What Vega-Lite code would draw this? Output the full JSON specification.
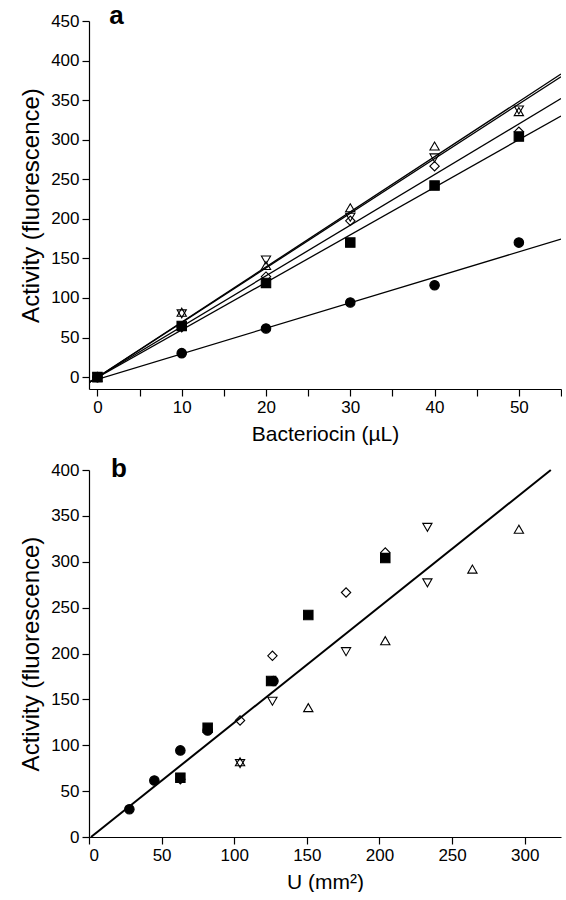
{
  "$schema": "https://vega.github.io/schema/vega-lite/v6.json",
  "background": "white",
  "padding": {"left": 19, "top": 3, "right": 0, "bottom": 0},
  "spacing": 11,
  "config": {
    "view": {"stroke": null},
    "font": "Liberation Sans",
    "axis": {
      "grid": false,
      "domainColor": "black",
      "domainWidth": 1.2,
      "tickColor": "black",
      "tickWidth": 1.2,
      "tickSize": 7,
      "labelColor": "black",
      "labelFont": "Liberation Sans",
      "labelFontSize": 17,
      "labelPadding": 3,
      "titleColor": "black",
      "titleFont": "Liberation Sans",
      "titleFontSize": 21,
      "titleFontWeight": "normal"
    }
  },
  "datasets": {
    "points": [
      {"series": "diamond", "bacteriocin": 0, "U": null, "activity": 0},
      {"series": "diamond", "bacteriocin": 10, "U": 62.9, "activity": 63},
      {"series": "diamond", "bacteriocin": 20, "U": 104, "activity": 127},
      {"series": "diamond", "bacteriocin": 30, "U": 126.3, "activity": 197.5},
      {"series": "diamond", "bacteriocin": 40, "U": 177, "activity": 266.5},
      {"series": "diamond", "bacteriocin": 50, "U": 204, "activity": 310},
      {"series": "triangle-up", "bacteriocin": 0, "U": null, "activity": 0},
      {"series": "triangle-up", "bacteriocin": 10, "U": 104, "activity": 82},
      {"series": "triangle-up", "bacteriocin": 20, "U": 151, "activity": 141},
      {"series": "triangle-up", "bacteriocin": 30, "U": 204, "activity": 214},
      {"series": "triangle-up", "bacteriocin": 40, "U": 264, "activity": 292},
      {"series": "triangle-up", "bacteriocin": 50, "U": 296, "activity": 335.5},
      {"series": "triangle-down", "bacteriocin": 0, "U": null, "activity": 0},
      {"series": "triangle-down", "bacteriocin": 10, "U": 104, "activity": 80},
      {"series": "triangle-down", "bacteriocin": 20, "U": 126.3, "activity": 148},
      {"series": "triangle-down", "bacteriocin": 30, "U": 177, "activity": 202},
      {"series": "triangle-down", "bacteriocin": 40, "U": 233, "activity": 277},
      {"series": "triangle-down", "bacteriocin": 50, "U": 233, "activity": 337.5},
      {"series": "circle", "bacteriocin": 0, "U": null, "activity": 0},
      {"series": "circle", "bacteriocin": 10, "U": 27.8, "activity": 30.3},
      {"series": "circle", "bacteriocin": 20, "U": 45, "activity": 61.5},
      {"series": "circle", "bacteriocin": 30, "U": 62.9, "activity": 94.4},
      {"series": "circle", "bacteriocin": 40, "U": 81.7, "activity": 116},
      {"series": "circle", "bacteriocin": 50, "U": 127, "activity": 170},
      {"series": "square", "bacteriocin": 0, "U": null, "activity": 0},
      {"series": "square", "bacteriocin": 10, "U": 62.9, "activity": 64.7},
      {"series": "square", "bacteriocin": 20, "U": 81.7, "activity": 119},
      {"series": "square", "bacteriocin": 30, "U": 125.4, "activity": 170},
      {"series": "square", "bacteriocin": 40, "U": 151, "activity": 242},
      {"series": "square", "bacteriocin": 50, "U": 204, "activity": 304}
    ],
    "fits": [
      {"series": "circle", "bacteriocin": -1, "activity": -6},
      {"series": "circle", "bacteriocin": 55, "activity": 174.5},
      {"series": "square", "bacteriocin": -1, "activity": -6.5},
      {"series": "square", "bacteriocin": 55, "activity": 330},
      {"series": "diamond", "bacteriocin": -1, "activity": -6.5},
      {"series": "diamond", "bacteriocin": 55, "activity": 352},
      {"series": "triangle-down", "bacteriocin": -1, "activity": -7},
      {"series": "triangle-down", "bacteriocin": 55, "activity": 379.6},
      {"series": "triangle-up", "bacteriocin": -1, "activity": -7},
      {"series": "triangle-up", "bacteriocin": 55, "activity": 383}
    ],
    "trend": [
      {"U": 1.4, "activity": 0},
      {"U": 318, "activity": 400}
    ]
  },
  "vconcat": [
    {
      "width": 472,
      "height": 368,
      "layer": [
        {
          "data": {"name": "fits"},
          "mark": {"type": "line", "stroke": "black", "strokeWidth": 1.3, "clip": true},
          "encoding": {
            "x": {
              "field": "bacteriocin", "type": "quantitative",
              "scale": {"domain": [-1, 55], "nice": false, "zero": false},
              "axis": {
                "title": "Bacteriocin (µL)",
                "values": [0, 5, 10, 15, 20, 25, 30, 35, 40, 45, 50, 55],
                "labelExpr": "datum.value % 10 === 0 ? datum.label : ''",
                "titlePadding": 8,
                "encode": {"ticks": {"update": {"y2": {"signal": "datum.value % 10 === 0 ? 7 : 4"}}}}
              }
            },
            "y": {
              "field": "activity", "type": "quantitative",
              "scale": {"domain": [-15, 450], "nice": false, "zero": false},
              "axis": {
                "title": "Activity (fluorescence)",
                "titleFontSize": 24,
                "values": [0, 25, 50, 75, 100, 125, 150, 175, 200, 225, 250, 275, 300, 325, 350, 375, 400, 425, 450],
                "labelExpr": "datum.value % 50 === 0 ? datum.label : ''",
                "titlePadding": 7,
                "encode": {"ticks": {"update": {"x2": {"signal": "datum.value % 50 === 0 ? -7 : -4"}}}}
              }
            },
            "detail": {"field": "series"}
          }
        },
        {
          "data": {"name": "points"},
          "mark": {"type": "point", "filled": true, "stroke": "black", "strokeWidth": 1.1, "opacity": 1},
          "encoding": {
            "x": {"field": "bacteriocin", "type": "quantitative"},
            "y": {"field": "activity", "type": "quantitative"},
            "shape": {
              "field": "series", "type": "nominal", "legend": null,
              "scale": {"domain": ["circle", "square", "diamond", "triangle-up", "triangle-down"],
                        "range": ["circle", "square", "diamond", "triangle-up", "triangle-down"]}
            },
            "fill": {
              "field": "series", "type": "nominal", "legend": null,
              "scale": {"domain": ["circle", "square", "diamond", "triangle-up", "triangle-down"],
                        "range": ["black", "black", "transparent", "transparent", "transparent"]}
            },
            "size": {
              "field": "series", "type": "nominal", "legend": null,
              "scale": {"domain": ["circle", "square", "diamond", "triangle-up", "triangle-down"],
                        "range": [90, 85, 155, 180, 180]}
            }
          }
        },
        {
          "data": {"values": [{"panel": "a"}]},
          "mark": {"type": "text", "fontSize": 26, "fontWeight": "bold", "align": "left", "baseline": "alphabetic", "font": "Liberation Sans", "color": "black"},
          "encoding": {
            "text": {"field": "panel"},
            "x": {"datum": 1.4, "type": "quantitative"},
            "y": {"datum": 446, "type": "quantitative"}
          }
        }
      ]
    },
    {
      "width": 472,
      "height": 367,
      "layer": [
        {
          "data": {"name": "trend"},
          "mark": {"type": "line", "stroke": "black", "strokeWidth": 2},
          "encoding": {
            "x": {
              "field": "U", "type": "quantitative",
              "scale": {"domain": [0, 325], "nice": false},
              "axis": {
                "title": "U (mm²)",
                "values": [0, 25, 50, 75, 100, 125, 150, 175, 200, 225, 250, 275, 300, 325],
                "labelExpr": "datum.value % 50 === 0 ? datum.label : ''",
                "titlePadding": 8,
                "encode": {"ticks": {"update": {"y2": {"signal": "datum.value % 50 === 0 ? 7 : 4"}}}}
              }
            },
            "y": {
              "field": "activity", "type": "quantitative",
              "scale": {"domain": [0, 400], "nice": false},
              "axis": {
                "title": "Activity (fluorescence)",
                "titleFontSize": 24,
                "values": [0, 25, 50, 75, 100, 125, 150, 175, 200, 225, 250, 275, 300, 325, 350, 375, 400],
                "labelExpr": "datum.value % 50 === 0 ? datum.label : ''",
                "titlePadding": 7,
                "encode": {"ticks": {"update": {"x2": {"signal": "datum.value % 50 === 0 ? -7 : -4"}}}}
              }
            }
          }
        },
        {
          "data": {"name": "points"},
          "transform": [{"filter": "datum.U != null"}],
          "mark": {"type": "point", "filled": true, "stroke": "black", "strokeWidth": 1.1, "opacity": 1},
          "encoding": {
            "x": {"field": "U", "type": "quantitative"},
            "y": {"field": "activity", "type": "quantitative"},
            "shape": {
              "field": "series", "type": "nominal", "legend": null,
              "scale": {"domain": ["circle", "square", "diamond", "triangle-up", "triangle-down"],
                        "range": ["circle", "square", "diamond", "triangle-up", "triangle-down"]}
            },
            "fill": {
              "field": "series", "type": "nominal", "legend": null,
              "scale": {"domain": ["circle", "square", "diamond", "triangle-up", "triangle-down"],
                        "range": ["black", "black", "transparent", "transparent", "transparent"]}
            },
            "size": {
              "field": "series", "type": "nominal", "legend": null,
              "scale": {"domain": ["circle", "square", "diamond", "triangle-up", "triangle-down"],
                        "range": [90, 85, 155, 180, 180]}
            }
          }
        },
        {
          "data": {"values": [{"panel": "b"}]},
          "mark": {"type": "text", "fontSize": 26, "fontWeight": "bold", "align": "left", "baseline": "alphabetic", "font": "Liberation Sans", "color": "black"},
          "encoding": {
            "text": {"field": "panel"},
            "x": {"datum": 15.2, "type": "quantitative"},
            "y": {"datum": 392.7, "type": "quantitative"}
          }
        }
      ]
    }
  ]
}
